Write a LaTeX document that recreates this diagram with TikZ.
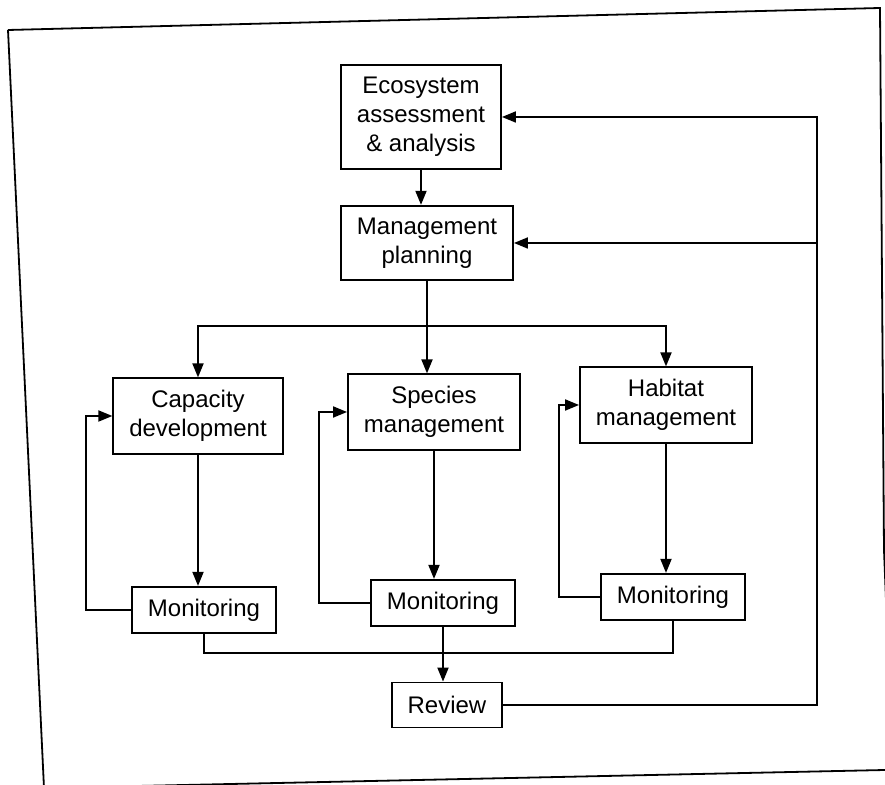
\documentclass[tikz,border=0pt]{standalone}
\usepackage{fontspec}
\setmainfont{Liberation Sans}
\usetikzlibrary{arrows.meta}

\begin{document}
\begin{tikzpicture}[x=0.5pt, y=-0.5pt, line width=0.9pt,
    box/.style={draw, align=center, inner xsep=8pt, inner ysep=6pt,
      font=\fontsize{12}{14.5}\selectfont},
    arr/.style={-{Triangle[length=7pt,width=5.5pt]}}]
  \useasboundingbox (0,0) rectangle (885,785);
  % frame of the page
  \begin{scope}
    \clip (0,0) rectangle (885,785);
    \draw (8,30) -- (880,8) -- (884,550) -- (888,650);
    \draw (8,30) -- (44,788) -- (885,770);
  \end{scope}
  % boxes
  \node[box] (eco) at (421,117) {Ecosystem\\assessment\\\& analysis};
  \node[box] (plan) at (427,243) {Management\\planning};
  \node[box] (cap) at (198,416) {Capacity\\development};
  \node[box] (spec) at (434,412) {Species\\management};
  \node[box] (hab) at (666,405) {Habitat\\management};
  \node[box] (monA) at (204,610) {Monitoring};
  \node[box] (monB) at (443,603) {Monitoring};
  \node[box] (monC) at (673,597) {Monitoring};
  \node[box, minimum height=22.5pt] (rev) at (447,705) {Review};
  \coordinate (split) at (427,326);
  \coordinate (collect) at (447,653);
  \coordinate (fb) at (817,0);
  % downward flow
  \draw[arr] (eco.south) -- (eco.south |- plan.north);
  \draw[arr] (plan.south) -- (plan.south |- spec.north);
  \draw[arr] (split) -| (cap.north);
  \draw[arr] (split) -| (hab.north);
  \draw[arr] (cap.south) -- (cap.south |- monA.north);
  \draw[arr] (spec.south) -- (spec.south |- monB.north);
  \draw[arr] (hab.south) -- (hab.south |- monC.north);
  \draw[arr] (monB.south) -- (monB.south |- rev.north);
  % monitoring loops
  \draw[arr] (monA.west) -- ++(-45,0) |- (cap.west);
  \draw[arr] (monB.west) -- ++(-51,0) |- (spec.west);
  \draw[arr] (monC.west) -- ++(-41,0) |- (hab.west);
  \draw (monA.south) |- (collect) -| (monC.south);
  % review back to the top
  \draw[arr] (rev.east) -| (fb |- eco.east) -- (eco.east);
  \draw[arr] (fb |- plan.east) -- (plan.east);
\end{tikzpicture}
\end{document}
